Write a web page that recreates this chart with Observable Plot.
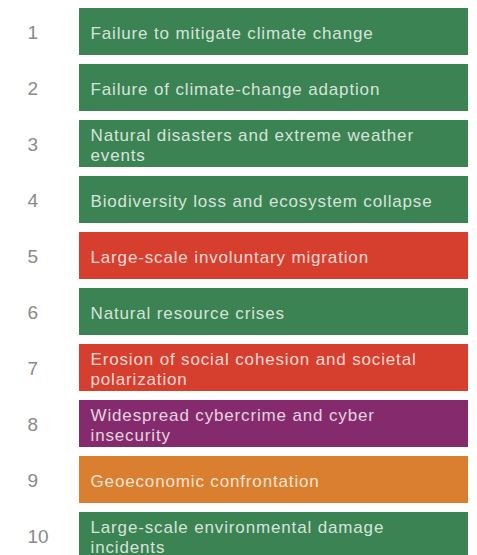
<!DOCTYPE html>
<html>
<head>
<meta charset="utf-8">
<script src="https://cdn.jsdelivr.net/npm/d3@7"></script>
<script src="https://cdn.jsdelivr.net/npm/@observablehq/plot@0.6"></script>
<style>
  html, body { margin: 0; padding: 0; background: #fff; overflow: hidden; }
  #chart g.risk-labels text { letter-spacing: 0.85px; }
</style>
</head>
<body>
<div id="chart"></div>
<script>
const ranks = [1, 2, 3, 4, 5, 6, 7, 8, 9, 10];
const risks = [
  "Failure to mitigate climate change",
  "Failure of climate-change adaption",
  "Natural disasters and extreme weather\nevents",
  "Biodiversity loss and ecosystem collapse",
  "Large-scale involuntary migration",
  "Natural resource crises",
  "Erosion of social cohesion and societal\npolarization",
  "Widespread cybercrime and cyber\ninsecurity",
  "Geoeconomic confrontation",
  "Large-scale environmental damage\nincidents"
];
const categories = [
  "Environmental", "Environmental", "Environmental", "Environmental",
  "Societal", "Environmental", "Societal", "Technological",
  "Geopolitical", "Environmental"
];
const categoryNames = ["Environmental", "Societal", "Technological", "Geopolitical"];
const categoryColors = ["#3b8352", "#d63f2e", "#852b6d", "#d97f2f"];

const data = ranks.map((r, i) => ({rank: r, risk: risks[i], category: categories[i]}));

const chart = Plot.plot({
  width: 477,
  height: 567,
  marginTop: 0,
  marginBottom: 0,
  marginLeft: 79,
  marginRight: 9,
  style: {fontFamily: "Helvetica, Arial, 'Liberation Sans', sans-serif", background: "#fff"},
  y: {type: "band", domain: ranks, paddingInner: 0.155, paddingOuter: 0.13, axis: null},
  color: {domain: categoryNames, range: categoryColors},
  marks: [
    Plot.cell(data, {y: "rank", fill: "category"}),
    Plot.text(data, {
      y: "rank", text: "risk", frameAnchor: "left", textAnchor: "start",
      dx: 11, dy: 1, fill: "#ffffff", fillOpacity: 0.8, fontSize: 17, lineHeight: 1.15
    }),
    Plot.text(data, {
      y: "rank", text: d => String(d.rank), frameAnchor: "left", textAnchor: "start",
      dx: -52, dy: 1, fill: "#8a8a8a", fontSize: 19
    })
  ]
});
// tag the label group (second text mark) for letter spacing
const groups = chart.querySelectorAll('g[aria-label="text"]');
if (groups.length > 0) groups[0].classList.add("risk-labels");
document.getElementById("chart").appendChild(chart);
</script>
</body>
</html>
